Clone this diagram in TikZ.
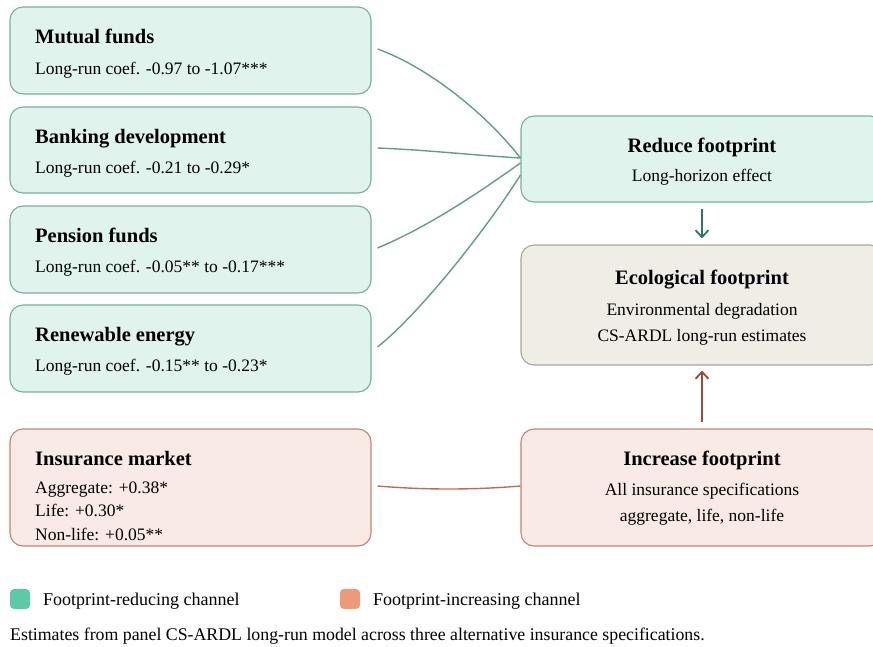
\documentclass[tikz,border=0pt]{standalone}
\usepackage{fontspec}
\setmainfont{Liberation Serif}
\usetikzlibrary{arrows.meta}
\definecolor{gfill}{HTML}{E0F3EC}
\definecolor{gdraw}{HTML}{72B29C}
\definecolor{gcurve}{HTML}{5F9F88}
\definecolor{garrow}{HTML}{2A7A5E}
\definecolor{bfill}{HTML}{F0EDE7}
\definecolor{bdraw}{HTML}{A9A6A0}
\definecolor{rfill}{HTML}{F9EAE5}
\definecolor{rdraw}{HTML}{C28470}
\definecolor{rcurve}{HTML}{B5705A}
\definecolor{rarrow}{HTML}{A04A30}
\definecolor{leggreen}{HTML}{5CC9A7}
\definecolor{legorange}{HTML}{F0997A}
\tikzset{
  box/.style={rounded corners=13pt, line width=1.1pt, inner sep=0pt},
  gbox/.style={box, fill=gfill, draw=gdraw},
  bbox/.style={box, fill=bfill, draw=bdraw},
  rbox/.style={box, fill=rfill, draw=rdraw},
  ttl/.style={inner sep=0pt, font=\fontsize{20.5}{24}\selectfont\bfseries},
  txt/.style={inner sep=0pt, font=\fontsize{17.5}{21}\selectfont},
  gline/.style={draw=gcurve, line width=1.4pt},
  rline/.style={draw=rcurve, line width=1.4pt},
  arr/.style={line width=1.8pt, -{Straight Barb[length=7pt,width=13pt,line width=1.8pt]}},
  legsq/.style={rounded corners=4pt, minimum width=20pt, minimum height=20pt, inner sep=0pt}
}
\begin{document}
\begin{tikzpicture}[x=1pt,y=-1pt]
\useasboundingbox (0,0) rectangle (873,646);
% left boxes
\node[gbox, minimum width=361pt, minimum height=87pt] (mf) at (190.5,50.5) {};
\node[gbox, minimum width=361pt, minimum height=86pt] (bd) at (190.5,150) {};
\node[gbox, minimum width=361pt, minimum height=87pt] (pf) at (190.5,249.5) {};
\node[gbox, minimum width=361pt, minimum height=87pt] (re) at (190.5,348.5) {};
\node[rbox, minimum width=361pt, minimum height=117pt] (im) at (190.5,487.5) {};
% right boxes
\node[gbox, minimum width=362pt, minimum height=86pt] (rf) at (702,159) {};
\node[bbox, minimum width=362pt, minimum height=120pt] (eco) at (702,305) {};
\node[rbox, minimum width=362pt, minimum height=117pt] (inc) at (702,487.5) {};
% left texts
\node[ttl, anchor=base west] (mft) at (35,43.5) {Mutual funds};
\node[txt, anchor=base west] (mfb) at (35,74) {Long-run coef. -0.97 to -1.07***};
\node[ttl, anchor=base west] (bdt) at (35,143) {Banking development};
\node[txt, anchor=base west] (bdb) at (35,173) {Long-run coef. -0.21 to -0.29*};
\node[ttl, anchor=base west] (pft) at (35,242.5) {Pension funds};
\node[txt, anchor=base west] (pfb) at (35,272.5) {Long-run coef. -0.05** to -0.17***};
\node[ttl, anchor=base west] (ret) at (35,341.5) {Renewable energy};
\node[txt, anchor=base west] (reb) at (35,371.5) {Long-run coef. -0.15** to -0.23*};
\node[ttl, anchor=base west] (imt) at (35,465) {Insurance market};
\node[txt, anchor=base west] (im1) at (35,493) {Aggregate: +0.38*};
\node[txt, anchor=base west] (im2) at (35,516.5) {Life: +0.30*};
\node[txt, anchor=base west] (im3) at (35,540) {Non-life: +0.05**};
% right texts
\node[ttl, anchor=base] (rft) at (702,152.5) {Reduce footprint};
\node[txt, anchor=base] (rfb) at (702,181.5) {Long-horizon effect};
\node[ttl, anchor=base] (ecot) at (702,284) {Ecological footprint};
\node[txt, anchor=base] (eco1) at (702,315) {Environmental degradation};
\node[txt, anchor=base] (eco2) at (702,341.5) {CS-ARDL long-run estimates};
\node[ttl, anchor=base] (inct) at (702,465) {Increase footprint};
\node[txt, anchor=base] (inc1) at (702,495) {All insurance specifications};
\node[txt, anchor=base] (inc2) at (702,521.5) {aggregate, life, non-life};
% connectors
\draw[gline] ([xshift=6pt,yshift=1.5pt]mf.east) .. controls +(50,18) and +(-35,-45) .. ([yshift=1pt]rf.west);
\draw[gline] ([xshift=6pt,yshift=2pt]bd.east) .. controls +(50,2) and +(-50,-3) .. ([yshift=1pt]rf.west);
\draw[gline] ([xshift=6pt,yshift=1.5pt]pf.east) .. controls +(50,-21) and +(-45,32) .. ([yshift=-4pt]rf.west);
\draw[gline] ([xshift=6pt,yshift=1.5pt]re.east) .. controls +(45,-36) and +(-30,48) .. ([yshift=-16pt]rf.west);
\draw[rline] ([xshift=6pt,yshift=1.5pt]im.east) .. controls +(48,4) and +(-48,4) .. ([yshift=1.5pt]inc.west);
\draw[arr, draw=garrow] ([yshift=-6pt]rf.south) -- ([yshift=6pt]eco.north);
\draw[arr, draw=rarrow] ([yshift=6pt]inc.north) -- ([yshift=-5pt]eco.south);
% legend
\node[legsq, fill=leggreen] (lg) at (20,599) {};
\node[txt, anchor=base west, font=\fontsize{18}{21}\selectfont] (lgt) at (43,605) {Footprint-reducing channel};
\node[legsq, fill=legorange] (lo) at (350,599) {};
\node[txt, anchor=base west, font=\fontsize{18}{21}\selectfont] (lot) at (373,605) {Footprint-increasing channel};
\node[txt, anchor=base west, font=\fontsize{17.8}{20}\selectfont] (cap) at (10,640) {Estimates from panel CS-ARDL long-run model across three alternative insurance specifications.};
\end{tikzpicture}
\end{document}
